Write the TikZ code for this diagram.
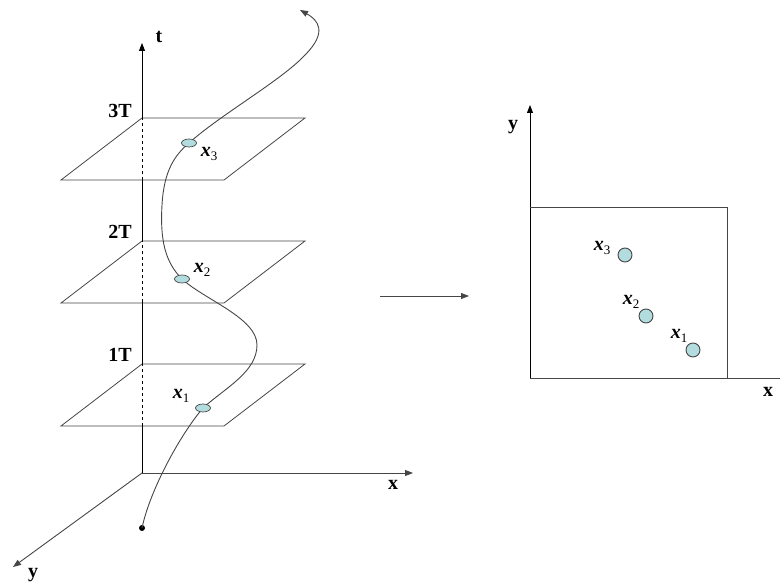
\documentclass[tikz,border=0pt]{standalone}
\usepackage{fontspec}
\setmainfont{Liberation Serif}
\usetikzlibrary{arrows.meta,shapes.geometric}
\definecolor{dotfill}{RGB}{178,220,222}
\definecolor{linegray}{RGB}{70,70,70}
\newcommand{\xlab}[1]{\textbf{\textit{x}}\raisebox{-0.5ex}{\fontsize{13}{13}\selectfont #1}}
\begin{document}
\begin{tikzpicture}[x=1pt,y=-1pt,
 lbl/.style={font=\fontsize{20}{20}\selectfont\bfseries, inner sep=0},
 xlbl/.style={font=\fontsize{20}{20}\selectfont, inner sep=0},
 axis/.style={line width=0.9pt, -{Triangle[length=8pt,width=6pt]}},
 plainaxis/.style={line width=0.9pt},
 plane/.style={draw=linegray, line width=0.8pt},
 traj/.style={draw=linegray, line width=0.9pt},
 pt/.style={ellipse, draw=linegray, fill=dotfill, minimum width=15pt, minimum height=8pt, inner sep=0, line width=0.7pt},
 ptb/.style={circle, draw=linegray, fill=dotfill, minimum size=14pt, inner sep=0, line width=0.9pt},
]
\useasboundingbox (0,0) rectangle (780,585);

% planes
\foreach \T in {118,241,364}{
  \draw[plane] (142,\T) -- (305,\T) -- (224,\T+62) -- (61,\T+62) -- cycle;
}

% axes (left)
\coordinate (O) at (142,473);
\coordinate (tend) at (142,43);
\coordinate (xend) at (413,473);
\coordinate (yend) at (13,567);
\draw[plainaxis] (O) -- (142,426);
\draw[plainaxis, dashed] (142,426) -- (142,364);
\draw[plainaxis] (142,364) -- (142,302);
\draw[plainaxis, dashed] (142,302) -- (142,241);
\draw[plainaxis] (142,241) -- (142,180);
\draw[plainaxis, dashed] (142,180) -- (142,118);
\draw[axis] (142,118) -- (tend);
\draw[axis, draw=linegray] (O) -- (xend);
\draw[axis, draw=linegray] (O) -- (yend);

\node[lbl] (tl) at (159,37) {t};
\node[lbl] (xl) at (393,485) {x};
\node[lbl] (yl) at (33,575) {y};
\node[lbl] (l3) at (120,111) {3T};
\node[lbl] (l2) at (120,232) {2T};
\node[lbl] (l1) at (120,355) {1T};

% trajectory
\node[circle, fill=black, minimum size=6pt, inner sep=0] (start) at (142,528) {};
\coordinate (p1) at (203,408);
\coordinate (p2) at (182,279);
\coordinate (p3) at (189,143);
\coordinate (bulge) at (257,345);
\coordinate (lft) at (162,205);
\coordinate (top) at (305,55);
\coordinate (tip) at (300,10);
\draw[traj] (start.center) .. controls (150,490) and (180,435) .. (p1)
  .. controls (225,388) and (257,372) .. (bulge)
  .. controls (257,318) and (205,300) .. (p2)
  .. controls (165,262) and (160,240) .. (lft)
  .. controls (164,170) and (175,155) .. (p3)
  .. controls (220,115) and (282,80) .. (top);
\draw[traj, -{Triangle[length=8pt,width=6pt]}] (top) .. controls (328,32) and (318,20) .. (tip);

\node[pt] (e1) at (p1) {};
\node[pt] (e2) at (p2) {};
\node[pt] (e3) at (p3) {};
\node[xlbl] (lx1) at (181,396) {\xlab{1}};
\node[xlbl] (lx2) at (202,270) {\xlab{2}};
\node[xlbl] (lx3) at (209,154) {\xlab{3}};

% middle arrow
\coordinate (ma) at (380,296);
\coordinate (mb) at (469,296);
\draw[axis, line width=0.8pt, draw=linegray] (ma) -- (mb);

% right diagram
\coordinate (O2) at (530,378);
\coordinate (y2) at (530,105);
\coordinate (x2) at (780,378);
\draw[axis] (O2) -- (y2);
\draw[plainaxis, draw=linegray] (O2) -- (x2);
\draw[plainaxis, draw=linegray] (530,207) -- (727,207) -- (727,378);
\node[lbl] (xr) at (768,392) {x};
\node[lbl] (yr) at (513,127) {y};

\node[ptb] (c3) at (625,255) {};
\node[ptb] (c2) at (646,316) {};
\node[ptb] (c1) at (693,350) {};
\node[xlbl] (rx3) at (602,248) {\xlab{3}};
\node[xlbl] (rx2) at (631,302) {\xlab{2}};
\node[xlbl] (rx1) at (679,336) {\xlab{1}};
\end{tikzpicture}
\end{document}
